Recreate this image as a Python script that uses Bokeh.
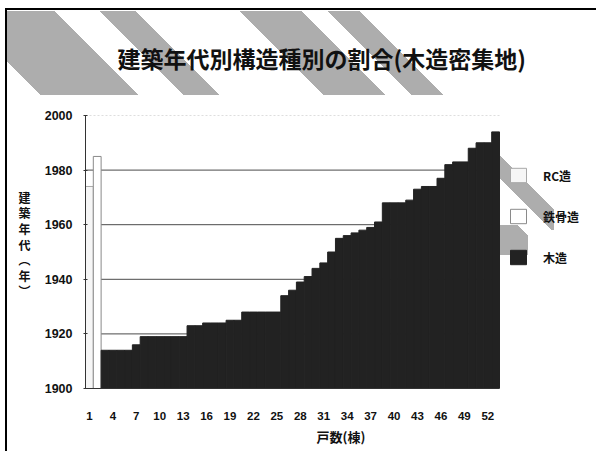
from bokeh.plotting import figure
from bokeh.models import Legend, LegendItem, FixedTicker, ColumnDataSource, LinearAxis
from bokeh.embed import file_html
from bokeh.resources import INLINE

# ---- data ----
houses = list(range(1, 54))
structure = ["RC造", "鉄骨造"] + ["木造"] * 51
years = [1974, 1985,
         1914, 1914, 1914, 1914, 1916,
         1919, 1919, 1919, 1919, 1919, 1919,
         1923, 1923, 1924, 1924, 1924, 1925, 1925,
         1928, 1928, 1928, 1928, 1928,
         1934, 1936, 1939, 1941, 1944, 1946, 1950,
         1955, 1956, 1957, 1958, 1959, 1961,
         1968, 1968, 1968, 1969, 1973, 1974, 1974, 1977,
         1982, 1983, 1983, 1988, 1990, 1990, 1994]
series = ["RC造", "鉄骨造", "木造"]
x_ticks = list(range(1, 54, 3))
y_ticks = [1900, 1920, 1940, 1960, 1980, 2000]
grid_ticks = [1920, 1940, 1960, 1980]
y_min, y_max = 1900, 2000

title_text = "建築年代別構造種別の割合(木造密集地)"
y_title_chars = ["建", "築", "年", "代", "︵", "年", "︶"]
x_title = "戸数(棟)"

CJK = "Noto Sans CJK JP"
LAT = "Liberation Sans"

# ---- layout (pixels) ----
W, H = 596, 451
FL, FT, FB = 85, 115, 388          # frame left / top / bottom
PLOT_W = 414                       # width of the bar area
n = len(houses)
px_per_cat = PLOT_W / n
x_start = 0.5
x_bar_end = n + 0.5
x_end = x_start + (W - FL) / px_per_cat
px_per_year = (FB - FT) / (y_max - y_min)

# ---- decorative background (CSS) ----
G = "#adadad"
def grad(bands):
    parts = ["transparent 0px"]
    for a, b in bands:
        parts += [f"transparent {a:.1f}px", f"{G} {a:.1f}px", f"{G} {b:.1f}px", f"transparent {b:.1f}px"]
    return "linear-gradient(45deg, " + ", ".join(parts) + ")"

def pband(k0, k1, off):
    return (0.7071 * (k0 + off), 0.7071 * (k1 + off))

hdr = grad([pband(-54, 44, 89), pband(88, 125, 89), pband(228, 290, 89), pband(316, 349, 89)])
lg1 = grad([pband(316, 340, -265)])
lg2 = grad([pband(228, 290, -242)])
solid = "linear-gradient(#000, #000)"

styles = {
    "background-color": "white",
    "background-image": ", ".join([solid, solid, hdr, lg1, lg2]),
    "background-position": "5px 8px, 5px 8px, 6px 11px, 500px 148px, 500px 225px",
    "background-size": "2px 443px, 591px 2px, 590px 84px, 54px 82px, 28px 30px",
    "background-repeat": "no-repeat, no-repeat, no-repeat, no-repeat, no-repeat",
}

p = figure(width=W, height=H, output_backend="svg", toolbar_location=None, tools="",
           x_range=(x_start, x_end), y_range=(y_min, y_max),
           min_border_left=FL, min_border_right=0, min_border_top=FT, min_border_bottom=H - FB)
p.styles = styles
p.border_fill_color = None
p.background_fill_color = None
p.outline_line_color = None

# title
p.title.text = title_text
p.title.align = "left"
p.title.offset = 32
p.title.vertical_align = "middle"
p.title.standoff = 79
p.title.text_font = CJK
p.title.text_font_style = "bold"
p.title.text_font_size = "23px"
p.title.text_color = "#111111"

# gridlines and plot-area top edge limited to the bar area
p.segment(x0=[x_start] * len(grid_ticks), x1=[x_bar_end] * len(grid_ticks),
          y0=grid_ticks, y1=grid_ticks, line_color="#4a4a4a", line_width=1)
p.segment(x0=[x_start], x1=[x_bar_end], y0=[y_max], y1=[y_max],
          line_color="#bdbdbd", line_width=1, line_dash="2 2")

fills = {"RC造": "#f6f6f6", "鉄骨造": "#ffffff", "木造": "#222222"}
lines = {"RC造": "#a8a8a8", "鉄骨造": "#8a8a8a", "木造": "#222222"}
renderers = {}
for s in series:
    xs = [h for h, st in zip(houses, structure) if st == s]
    ys = [y for y, st in zip(years, structure) if st == s]
    src = ColumnDataSource(data=dict(x=xs, top=ys))
    renderers[s] = p.vbar(x="x", top="top", bottom=y_min, width=1.0, source=src,
                          fill_color=fills[s], line_color=lines[s], line_width=1)

# axes
p.xaxis.bounds = (x_start, x_bar_end)
p.xaxis.ticker = FixedTicker(ticks=x_ticks)
p.xaxis.major_tick_line_color = None
p.xaxis.minor_tick_line_color = None
p.xaxis.major_label_standoff = 17
p.xaxis.major_label_text_font = LAT
p.xaxis.major_label_text_font_style = "bold"
p.xaxis.major_label_text_font_size = "11.5px"
p.xaxis.major_label_text_color = "#111111"
p.xaxis.axis_line_color = "#333333"
p.xaxis.axis_label = x_title
p.xaxis.axis_label_text_font = CJK
p.xaxis.axis_label_text_font_style = "bold"
p.xaxis.axis_label_text_font_size = "13px"
p.xaxis.axis_label_standoff = 4
p.xaxis.axis_label_text_color = "#111111"

p.yaxis.ticker = FixedTicker(ticks=y_ticks)
p.yaxis.major_tick_in = 2
p.yaxis.major_tick_out = 2
p.yaxis.minor_tick_line_color = None
p.yaxis.major_tick_line_color = "#333333"
p.yaxis.major_label_standoff = 11
p.yaxis.major_label_text_font = LAT
p.yaxis.major_label_text_font_style = "bold"
p.yaxis.major_label_text_font_size = "12.5px"
p.yaxis.major_label_text_color = "#111111"
p.yaxis.axis_line_color = "#333333"

p.xgrid.grid_line_color = None
p.ygrid.grid_line_color = None

# vertical y-axis title: upright stacked characters as labels of an outer axis
char_px = [197 + 15.5 * i for i in range(len(y_title_chars))]
char_pos = [round(y_min + (FB - py) / px_per_year, 3) for py in char_px]
title_axis = LinearAxis(ticker=FixedTicker(ticks=char_pos),
                        major_label_overrides={t: c for t, c in zip(char_pos, y_title_chars)},
                        axis_line_color=None, major_tick_line_color=None,
                        minor_tick_line_color=None, major_label_standoff=5,
                        major_label_text_font=CJK, major_label_text_font_style="bold",
                        major_label_text_font_size="12px", major_label_text_color="#111111")
p.add_layout(title_axis, "left")

legend = Legend(items=[LegendItem(label=s, renderers=[renderers[s]]) for s in series],
                location=(423, 122), orientation="vertical",
                glyph_width=20, glyph_height=18, label_height=18, spacing=23,
                label_standoff=15, padding=0, margin=0,
                border_line_color=None, background_fill_alpha=0,
                label_text_font=CJK, label_text_font_style="bold",
                label_text_font_size="12px", label_text_color="#111111")
p.add_layout(legend)

open("out.html", "w").write(file_html(p, INLINE))
